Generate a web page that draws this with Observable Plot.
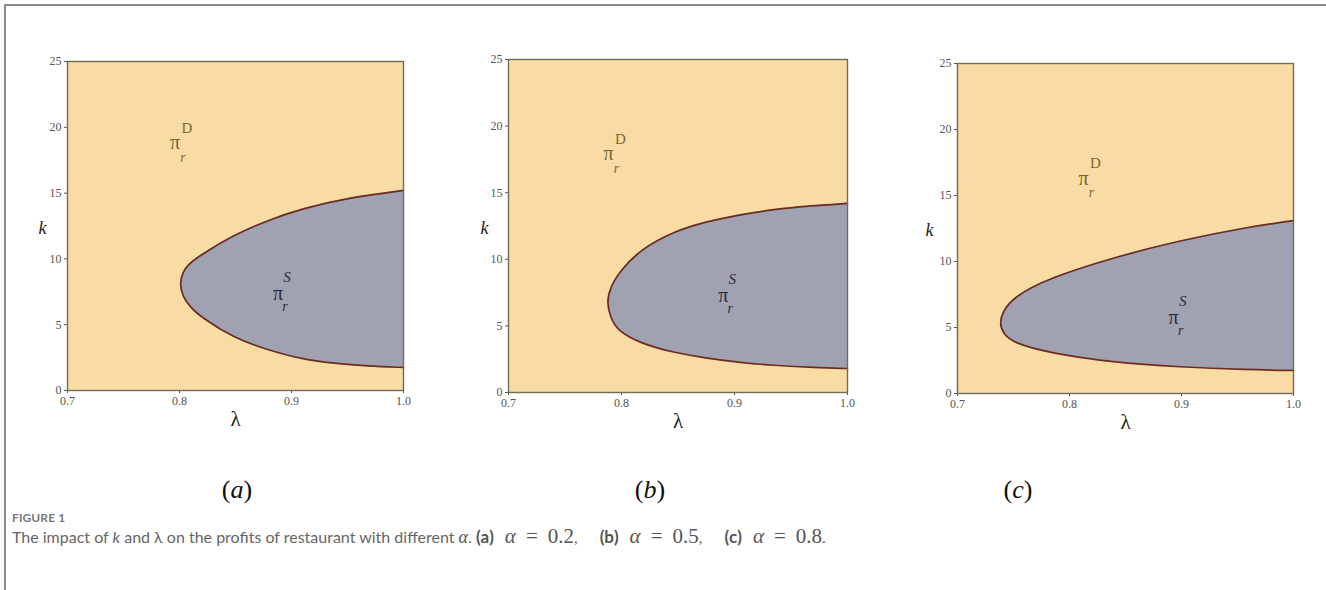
<!DOCTYPE html>
<html><head><meta charset="utf-8">
<script src="https://cdn.jsdelivr.net/npm/d3@7"></script>
<script src="https://cdn.jsdelivr.net/npm/@observablehq/plot@0.6"></script>
<style>
body{margin:0;background:#fff;}
#page{position:relative;width:1326px;height:590px;overflow:hidden;background:#fff;}
#border{position:absolute;left:4px;top:4px;width:1400px;height:700px;border-left:2px solid #8c8c8c;border-top:2px solid #8c8c8c;}
.panel{position:absolute;}
.tag{position:absolute;font-family:"Liberation Serif","DejaVu Serif",serif;font-size:26px;color:#111;transform:translate(-50%,-50%);white-space:nowrap;}
#fig{position:absolute;left:12px;top:510px;font-family:Lato,"Open Sans",sans-serif;font-size:12px;font-weight:700;color:#7a7a7a;letter-spacing:0.1px;}
#cap{position:absolute;left:12px;top:526px;font-family:Lato,"Open Sans",sans-serif;font-size:16px;color:#666;white-space:nowrap;}
#cap b{font-weight:700;color:#555;font-size:17px;}
.m{font-family:"Liberation Serif",serif;font-size:21px;color:#555;line-height:1;}
.eq{margin:0 10px;}
.grp{margin-left:11px;}
.gap{margin-right:22px;}
</style>
</head><body>
<div id="page">
<div id="border"></div>
<div class="tag" style="left:237px;top:490px">(<i>a</i>)</div>
<div class="tag" style="left:650px;top:490px">(<i>b</i>)</div>
<div class="tag" style="left:1018px;top:490px">(<i>c</i>)</div>
<div id="fig">FIGURE 1</div>
<div id="cap">The impact of <i>k</i> and λ on the profits of restaurant with different <span class="m" style="font-size:18px"><i>α</i></span>. <b>(a)</b><span class="m grp"><i>α</i><span class="eq">=</span>0.2</span><span class="gap">,</span><b>(b)</b><span class="m grp"><i>α</i><span class="eq">=</span>0.5</span><span class="gap">,</span><b>(c)</b><span class="m grp"><i>α</i><span class="eq">=</span>0.8</span>.</div>
</div>
<script>
// ---- data ----
const panelIds = ["a", "b", "c"];
const lambdaTicks = [0.7, 0.8, 0.9, 1.0];
const kTicks = [0, 5, 10, 15, 20, 25];

// boundary curves (ordered by k: bottom-right -> nose -> top-right)
const boundaryLambdaA = [1.0, 0.968, 0.938, 0.908, 0.878, 0.848, 0.819, 0.810, 0.803, 0.800, 0.803, 0.808, 0.819, 0.848, 0.878, 0.908, 0.954, 1.0];
const boundaryKA      = [1.75, 1.85, 2.05, 2.4, 3.1, 4.0, 5.6, 6.3, 7.1, 8.1, 9.0, 9.6, 10.3, 11.8, 12.9, 13.8, 14.7, 15.2];

const boundaryLambdaB = [1.0, 0.965, 0.935, 0.905, 0.876, 0.846, 0.817, 0.796, 0.790, 0.787, 0.790, 0.799, 0.817, 0.846, 0.876, 0.905, 0.935, 0.965, 1.0];
const boundaryKB      = [1.8, 1.9, 2.03, 2.25, 2.55, 3.0, 3.68, 4.65, 5.7, 6.76, 7.9, 9.16, 10.75, 12.1, 12.85, 13.35, 13.75, 14.0, 14.2];

const boundaryLambdaC = [1.0, 0.959, 0.899, 0.839, 0.780, 0.750, 0.7410, 0.7375, 0.7403, 0.750, 0.780, 0.839, 0.899, 0.959, 1.0];
const boundaryKC      = [1.75, 1.8, 2.0, 2.35, 3.1, 3.85, 4.5, 5.3, 6.2, 7.3, 8.7, 10.3, 11.6, 12.6, 13.1];

// region labels
const labelDLambda = [0.796, 0.7885, 0.8125];
const labelDK      = [18.8, 17.9, 16.3];
const labelSLambda = [0.888, 0.890, 0.893];
const labelSK      = [7.4, 7.3, 5.75];

// ---- layout ----
const frames = [
  {x0: 67, x1: 403, y0: 61, y1: 390, kdx: -29},
  {x0: 508, x1: 847, y0: 59, y1: 392, kdx: -28},
  {x0: 957, x1: 1293, y0: 63, y1: 393, kdx: -32}
];
const boundaries = [
  [boundaryLambdaA, boundaryKA],
  [boundaryLambdaB, boundaryKB],
  [boundaryLambdaC, boundaryKC]
];
const ml = 50, mt = 20, mr = 20, mb = 50;
const serif = "Liberation Serif, DejaVu Serif, serif";
const page = document.getElementById("page");

panelIds.forEach((id, i) => {
  const f = frames[i];
  const [lam, kk] = boundaries[i];
  const pts = lam.map((l, j) => ({lambda: l, k: kk[j]}));
  const dPt = [{lambda: labelDLambda[i], k: labelDK[i]}];
  const sPt = [{lambda: labelSLambda[i], k: labelSK[i]}];
  const chart = Plot.plot({
    width: (f.x1 - f.x0) + ml + mr,
    height: (f.y1 - f.y0) + mt + mb,
    marginLeft: ml, marginTop: mt, marginRight: mr, marginBottom: mb,
    style: {fontFamily: serif, fontSize: "12px", color: "#555", background: "transparent"},
    x: {domain: [0.7, 1.0], ticks: lambdaTicks, tickFormat: d3.format(".1f"), label: null, tickSize: 3, tickPadding: 3},
    y: {domain: [0, 25], ticks: kTicks, label: null, tickSize: 3, tickPadding: 3},
    marks: [
      Plot.frame({fill: "#f9dca4"}),
      Plot.areaX(pts, {y: "k", x1: "lambda", x2: () => 1.0, fill: "#a1a2b1", curve: "basis"}),
      Plot.line(pts, {x: "lambda", y: "k", stroke: "#6b2a22", strokeWidth: 1.7, curve: "basis"}),
      Plot.frame({stroke: "#6f6c5c", strokeWidth: 1.4}),
      Plot.text(dPt, {x: "lambda", y: "k", text: () => "π", fontSize: 20, fill: "#7d6432", fontFamily: serif}),
      Plot.text(dPt, {x: "lambda", y: "k", text: () => "D", dx: 12, dy: -15, fontSize: 15, fill: "#7d6432", fontFamily: serif}),
      Plot.text(dPt, {x: "lambda", y: "k", text: () => "r", dx: 8, dy: 14, fontSize: 14, fontStyle: "italic", fill: "#7d6432", fontFamily: serif}),
      Plot.text(sPt, {x: "lambda", y: "k", text: () => "π", fontSize: 20, fill: "#2a2a36", fontFamily: serif}),
      Plot.text(sPt, {x: "lambda", y: "k", text: () => "S", dx: 9, dy: -16, fontSize: 15, fontStyle: "italic", fill: "#2a2a36", fontFamily: serif}),
      Plot.text(sPt, {x: "lambda", y: "k", text: () => "r", dx: 7, dy: 13, fontSize: 14, fontStyle: "italic", fill: "#2a2a36", fontFamily: serif}),
      Plot.text(["k"], {frameAnchor: "left", dx: f.kdx, dy: 2, fontSize: 18, fontStyle: "italic", fill: "#222", fontFamily: serif}),
      Plot.text(["λ"], {frameAnchor: "bottom", dy: 35, fontSize: 21, fill: "#222", fontFamily: serif})
    ]
  });
  chart.classList.add("panel");
  chart.style.left = (f.x0 - ml) + "px";
  chart.style.top = (f.y0 - mt) + "px";
  chart.style.position = "absolute";
  page.appendChild(chart);
});
</script>
</body></html>
